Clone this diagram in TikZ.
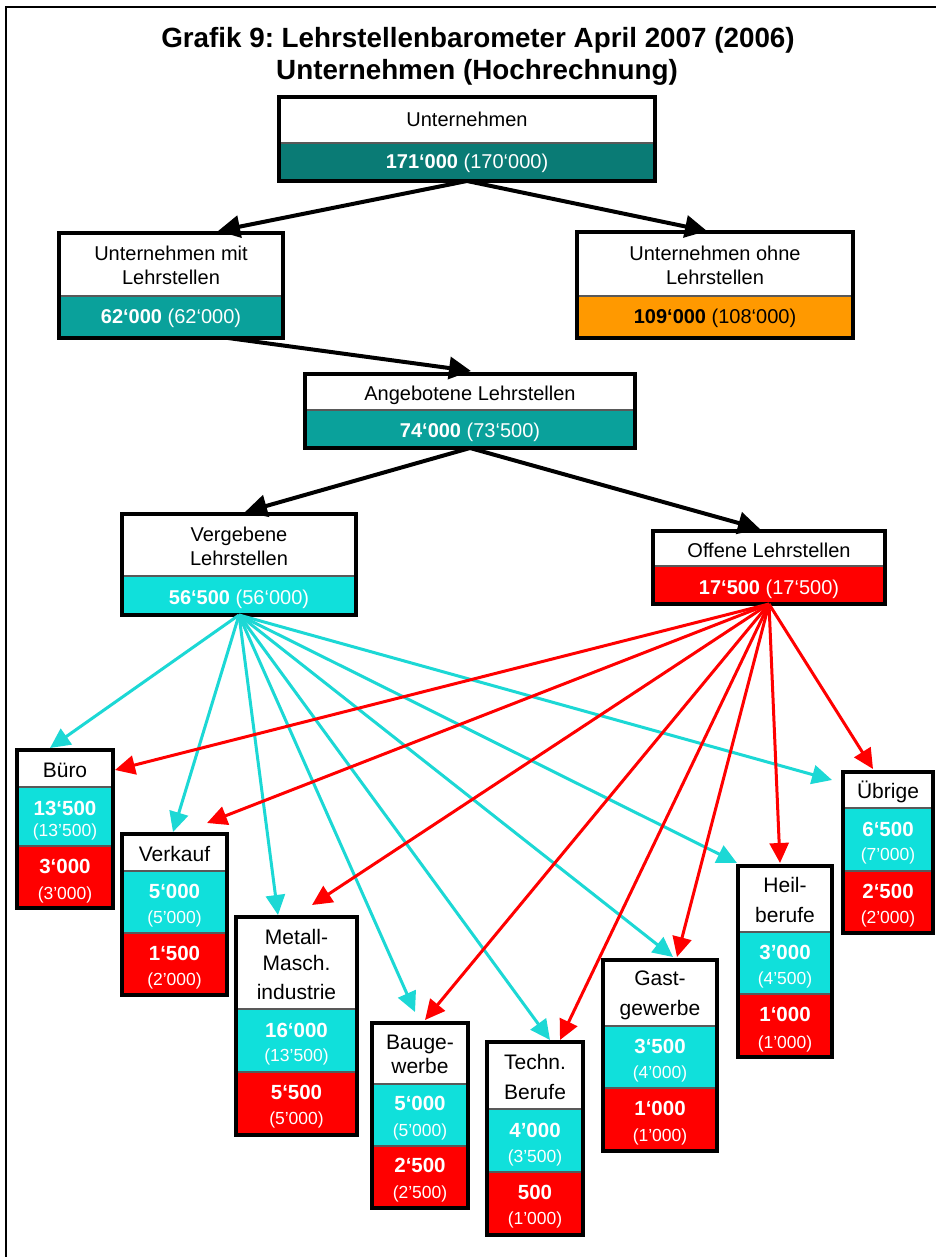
\documentclass[tikz,border=0pt]{standalone}
\usepackage{fontspec}
\setmainfont{Liberation Sans}
\usetikzlibrary{arrows.meta}
\frenchspacing
\definecolor{darkteal}{HTML}{0A7B75}
\definecolor{midteal}{HTML}{0AA19B}
\definecolor{lightcyan}{HTML}{10E0DB}
\definecolor{linecyan}{HTML}{1CD8D5}
\definecolor{orng}{HTML}{FF9900}
\definecolor{rd}{HTML}{FF0000}
\newcommand\frm[5]{%
  \pgfmathsetmacro\fw{#4-#2-4}\pgfmathsetmacro\fh{#5-#3-4}%
  \node[frame,minimum width=\fw pt,minimum height=\fh pt,anchor=north west] (#1) at (#2+2,#3+2) {};}
\newcommand\topbox[7]{%
  \fill[white] (#2,#3) rectangle (#4,#5);
  \fill[#7] (#2,#5) rectangle (#4,#6);
  \draw[sepline] (#2,#5) -- (#4,#5);
  \frm{#1}{#2}{#3}{#4}{#6}}
\newcommand\botbox[7]{%
  \fill[white] (#2,#3) rectangle (#4,#5);
  \fill[lightcyan] (#2,#5) rectangle (#4,#6);
  \fill[rd] (#2,#6) rectangle (#4,#7);
  \draw[sepline] (#2,#5) -- (#4,#5);
  \draw[sepline] (#2,#6) -- (#4,#6);
  \frm{#1}{#2}{#3}{#4}{#7}}
\begin{document}
\begin{tikzpicture}[x=1pt,y=-1pt,
  frame/.style={draw=black,line width=4pt,inner sep=0pt,outer sep=0pt,rectangle},
  sepline/.style={draw=black!65,line width=2pt},
  title/.style={font=\fontsize{27.8}{32}\selectfont\bfseries,inner sep=0pt,text height=20pt,text depth=0pt},
  lbl/.style={font=\fontsize{20}{24}\selectfont,inner sep=0pt,text height=14pt,text depth=0pt},
  blbl/.style={font=\fontsize{21}{24}\selectfont,inner sep=0pt,text height=15pt,text depth=0pt},
  val/.style={font=\fontsize{20.5}{24}\selectfont\bfseries,inner sep=0pt,text height=14.5pt,text depth=0pt,text=white},
  prn/.style={font=\fontsize{17.5}{20}\selectfont,inner sep=0pt,text height=12.5pt,text depth=0pt,text=white},
  blk/.style={draw=black,line width=4pt,-{Triangle[length=22pt,width=22pt]}},
  cy/.style={draw=linecyan,line width=3pt,-{Triangle[length=20pt,width=19pt]}},
  rr/.style={draw=rd,line width=3pt,-{Triangle[length=20pt,width=19pt]}}]
\useasboundingbox (0,0) rectangle (936,1257);
\fill[white] (0,0) rectangle (936,1257);
\draw[line width=2pt] (936,7) -- (6,7) -- (6,1257);
% title
\node[title] (t1) at (478,38) {Grafik 9: Lehrstellenbarometer April 2007 (2006)};
\node[title] (t2) at (477,70) {Unternehmen (Hochrechnung)};
% top boxes
\topbox{U}{277}{95}{657}{143}{183}{darkteal}
\node[lbl] (Ut) at (467,120) {Unternehmen};
\node[lbl,text=white] (Uv) at (467,162) {\textbf{171‘000} (170‘000)};
\topbox{UM}{57}{231}{285}{296}{340}{midteal}
\node[lbl] (UMt1) at (171,253) {Unternehmen mit};
\node[lbl] (UMt2) at (171,277) {Lehrstellen};
\node[lbl,text=white] (UMv) at (171,316) {\textbf{62‘000} (62‘000)};
\topbox{UO}{575}{230}{855}{296}{340}{orng}
\node[lbl] (UOt1) at (715,253) {Unternehmen ohne};
\node[lbl] (UOt2) at (715,277) {Lehrstellen};
\node[lbl] (UOv) at (715,316) {\textbf{109‘000} (108‘000)};
\topbox{AL}{303}{372}{637}{410}{450}{midteal}
\node[lbl] (ALt) at (470,393) {Angebotene Lehrstellen};
\node[lbl,text=white] (ALv) at (470,430) {\textbf{74‘000} (73‘500)};
\topbox{VL}{120}{512}{358}{576}{617}{lightcyan}
\node[lbl] (VLt1) at (239,534) {Vergebene};
\node[lbl] (VLt2) at (239,558) {Lehrstellen};
\node[lbl,text=white] (VLv) at (239,597) {\textbf{56‘500} (56‘000)};
\topbox{OL}{651}{529}{887}{566}{606}{rd}
\node[lbl] (OLt) at (769,550) {Offene Lehrstellen};
\node[lbl,text=white] (OLv) at (769,587) {\textbf{17‘500} (17‘500)};
% bottom boxes
\botbox{bu}{15}{748}{115}{787}{846}{910}
\node[blbl] (bu1) at (65,770) {Büro};
\node[val] (bu2) at (65,808) {13‘500};
\node[prn] (bu3) at (65,830) {(13’500)};
\node[val] (bu4) at (65,866) {3‘000};
\node[prn] (bu5) at (65,893) {(3’000)};
\botbox{ve}{120}{832}{229}{871}{933}{997}
\node[blbl] (ve1) at (174.5,854) {Verkauf};
\node[val] (ve2) at (174.5,891) {5‘000};
\node[prn] (ve3) at (174.5,917) {(5’000)};
\node[val] (ve4) at (174.5,953) {1‘500};
\node[prn] (ve5) at (174.5,979) {(2’000)};
\botbox{me}{234}{915}{359}{1009}{1072}{1137}
\node[blbl] (me1) at (296.5,937) {Metall-};
\node[blbl] (me1b) at (296.5,963) {Masch.};
\node[blbl] (me1c) at (296.5,992) {industrie};
\node[val] (me2) at (296.5,1030) {16‘000};
\node[prn] (me3) at (296.5,1055) {(13’500)};
\node[val] (me4) at (296.5,1092) {5‘500};
\node[prn] (me5) at (296.5,1118) {(5’000)};
\botbox{ba}{370}{1021}{470}{1084}{1146}{1210}
\node[blbl] (ba1) at (420,1042) {Bauge-};
\node[blbl] (ba1b) at (420,1066) {werbe};
\node[val] (ba2) at (420,1103) {5‘000};
\node[prn] (ba3) at (420,1130) {(5’000)};
\node[val] (ba4) at (420,1165) {2‘500};
\node[prn] (ba5) at (420,1192) {(2’500)};
\botbox{te}{485}{1040}{585}{1109}{1172}{1237}
\node[blbl] (te1) at (535,1062) {Techn.};
\node[blbl] (te1b) at (535,1092) {Berufe};
\node[val] (te2) at (535,1130) {4’000};
\node[prn] (te3) at (535,1156) {(3’500)};
\node[val] (te4) at (535,1192) {500};
\node[prn] (te5) at (535,1218) {(1’000)};
\botbox{ga}{601}{958}{719}{1026}{1088}{1153}
\node[blbl] (ga1) at (660,978) {Gast-};
\node[blbl] (ga1b) at (660,1008) {gewerbe};
\node[val] (ga2) at (660,1046) {3‘500};
\node[prn] (ga3) at (660,1072) {(4’000)};
\node[val] (ga4) at (660,1108) {1‘000};
\node[prn] (ga5) at (660,1135) {(1’000)};
\botbox{he}{736}{864}{834}{932}{994}{1059}
\node[blbl] (he1) at (785,885) {Heil-};
\node[blbl] (he1b) at (785,915) {berufe};
\node[val] (he2) at (785,952) {3’000};
\node[prn] (he3) at (785,978) {(4’500)};
\node[val] (he4) at (785,1014) {1‘000};
\node[prn] (he5) at (785,1042) {(1’000)};
\botbox{ue}{841}{770}{935}{808}{871}{935}
\node[blbl] (ue1) at (888,791) {Übrige};
\node[val] (ue2) at (888,829) {6‘500};
\node[prn] (ue3) at (888,854) {(7’000)};
\node[val] (ue4) at (888,891) {2‘500};
\node[prn] (ue5) at (888,917) {(2’000)};
% arrow end points
\coordinate (UMin) at (218,231);
\coordinate (UOin) at (707,231);
\coordinate (UMout) at (228,338);
\coordinate (ALin) at (471,371);
\coordinate (VLin) at (245,512);
\coordinate (OLin) at (760,529);
\coordinate (cbu) at (50,748);
\coordinate (cve) at (173,832);
\coordinate (cme) at (278,915);
\coordinate (cba) at (415,1012);
\coordinate (cte) at (550,1040);
\coordinate (cga) at (673,957);
\coordinate (che) at (737,863);
\coordinate (cue) at (832,780);
\coordinate (rbu) at (115,770);
\coordinate (rve) at (207,823);
\coordinate (rme) at (312,905);
\coordinate (rba) at (425,1020);
\coordinate (rte) at (560,1040);
\coordinate (rga) at (677,957);
\coordinate (rhe) at (780,863);
\coordinate (rue) at (873,769);
% black arrows
\draw[blk] (U.south) -- (UMin);
\draw[blk] (U.south) -- (UOin);
\draw[blk] (UMout) -- (ALin);
\draw[blk] (AL.south) -- (VLin);
\draw[blk] (AL.south) -- (OLin);
% cyan arrows
\foreach \t in {cbu,cve,cme,cba,cte,cga,che,cue} \draw[cy] (VL.south) -- (\t);
% red arrows
\foreach \t in {rbu,rve,rme,rba,rte,rga,rhe,rue} \draw[rr] (OL.south) -- (\t);
\end{tikzpicture}
\end{document}
